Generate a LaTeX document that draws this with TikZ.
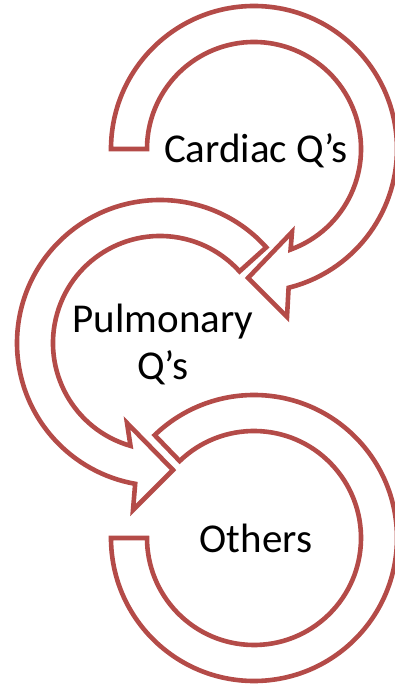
\documentclass[tikz,border=0pt]{standalone}
\usepackage{fontspec}
\setmainfont{Carlito}
\definecolor{rcol}{RGB}{180,75,72}
\tikzstyle{ring}=[draw=rcol, line width=4.6pt, fill=white]
\tikzstyle{txt}=[font=\fontsize{41}{47}\selectfont, inner sep=0pt, align=center]

\begin{document}
\begin{tikzpicture}[x=1pt, y=1pt]
			\useasboundingbox (0,0) rectangle (395,685);

			% Top ring with arrow head
			\begin{scope}[shift={(254,536)}]
				\draw[ring] (180:143) arc[start angle=180, end angle=-76, radius=143] -- (33,-168) -- (-6,-129) -- (38,-83) -- (-70:107) arc[start angle=-70, end angle=180, radius=107] -- cycle;
			\end{scope}
			% Middle ring with arrow head
			\begin{scope}[shift={(160,342)}]
				\draw[ring] (42:143) arc[start angle=42, end angle=260, radius=143] -- (-27,-167) -- (13,-127) -- (-33,-80) -- (254:107) arc[start angle=254, end angle=42, radius=107] -- cycle;
			\end{scope}
			% Bottom ring, no head
			\begin{scope}[shift={(254,147)}]
				\draw[ring] (180:143) arc[start angle=180, end angle=494, radius=143] -- (494:107) arc[start angle=494, end angle=180, radius=107] -- cycle;
			\end{scope}

			\node[txt, anchor=base] (cardiac) at (256, 522) {Cardiac Q’s};
			\node[txt, anchor=base] (pulmonary) at (163, 305) {Pulmonary\\Q’s};
			\node[txt, anchor=base] (others) at (256, 132) {Others};
		\end{tikzpicture}
\end{document}
